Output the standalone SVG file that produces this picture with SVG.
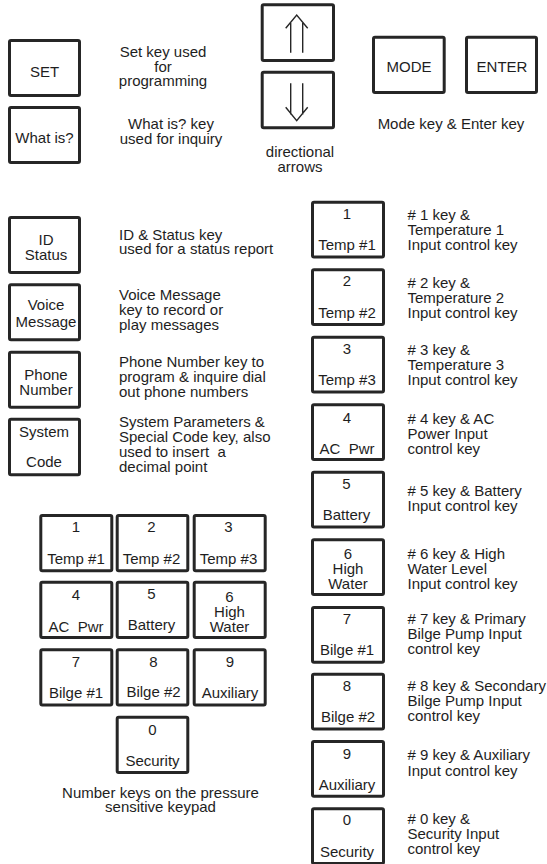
<svg xmlns="http://www.w3.org/2000/svg" width="547" height="864" viewBox="0 0 547 864">
<style>
.key{fill:#fff;stroke:#262626;stroke-width:3;}
text{font-family:"Liberation Sans",Arial,sans-serif;font-size:15px;fill:#1e1e1e;}
.c{text-anchor:middle;}
.arr{fill:none;stroke:#262626;stroke-width:1.4;}
</style>
<rect width="547" height="864" fill="#fff"/>

<g id="set">
<rect class="key" x="9.5" y="40.5" width="70" height="55" rx="1.5"/>
<text class="c" x="44.5" y="77">SET</text>
</g>
<text class="c" x="163" y="57"><tspan x="163" y="57">Set key used</tspan><tspan x="163" y="72">for</tspan><tspan x="163" y="86">programming</tspan></text>

<g id="whatis">
<rect class="key" x="9.5" y="107.5" width="70" height="55" rx="1.5"/>
<text class="c" x="44.5" y="143">What is?</text>
</g>
<text class="c"><tspan x="171" y="129">What is? key</tspan><tspan x="171" y="144">used for inquiry</tspan></text>

<g id="up">
<rect class="key" x="262.2" y="4.8" width="71.3" height="55.6" rx="1.5"/>
<path class="arr" d="M285.7 28.3 L296.7 15 L307.7 28.3 M290.7 23 V52.7 M302.7 23 V52.7"/>
</g>
<g id="down">
<rect class="key" x="262.2" y="72.2" width="71.3" height="55.6" rx="1.5"/>
<path class="arr" d="M285.7 107.3 L296.7 120.7 L307.7 107.3 M290.7 83.3 V114.5 M302.7 83.3 V114.5"/>
</g>
<text class="c"><tspan x="300" y="157">directional</tspan><tspan x="300" y="172">arrows</tspan></text>

<g id="mode">
<rect class="key" x="373.5" y="37.2" width="70.7" height="55.3" rx="1.5"/>
<text class="c" x="409" y="71.5">MODE</text>
</g>
<g id="enter">
<rect class="key" x="466.5" y="37.2" width="70" height="55.3" rx="1.5"/>
<text class="c" x="502" y="71.5">ENTER</text>
</g>
<text class="c" x="451" y="129.3">Mode key &amp; Enter key</text>

<g id="idstatus">
<rect class="key" x="9.5" y="217.5" width="70" height="55" rx="1.5"/>
<text class="c"><tspan x="46" y="245">ID</tspan><tspan x="46" y="260">Status</tspan></text>
</g>
<text><tspan x="119" y="239.5">ID &amp; Status key</tspan><tspan x="119" y="254">used for a status report</tspan></text>

<g id="voice">
<rect class="key" x="9.5" y="284.8" width="70" height="55" rx="1.5"/>
<text class="c"><tspan x="46" y="309.5">Voice</tspan><tspan x="46" y="326.5">Message</tspan></text>
</g>
<text><tspan x="119" y="300">Voice Message</tspan><tspan x="119" y="315">key to record or</tspan><tspan x="119" y="330">play messages</tspan></text>

<g id="phone">
<rect class="key" x="9.5" y="352.2" width="70" height="55" rx="1.5"/>
<text class="c"><tspan x="46" y="380">Phone</tspan><tspan x="46" y="395">Number</tspan></text>
</g>
<text><tspan x="119" y="367">Phone Number key to</tspan><tspan x="119" y="382">program &amp; inquire dial</tspan><tspan x="119" y="397">out phone numbers</tspan></text>

<g id="system">
<rect class="key" x="9.5" y="419.2" width="70" height="55.5" rx="1.5"/>
<text class="c"><tspan x="44" y="437">System</tspan><tspan x="44" y="467">Code</tspan></text>
</g>
<text xml:space="preserve"><tspan x="119" y="427">System Parameters &amp;</tspan><tspan x="119" y="442">Special Code key, also</tspan><tspan x="119" y="457">used to insert  a</tspan><tspan x="119" y="472">decimal point</tspan></text>

<!-- keypad -->
<g id="kp1"><rect class="key" x="40.8" y="515.5" width="71" height="55.3" rx="1.5"/><text class="c"><tspan x="76" y="531.5">1</tspan><tspan x="76" y="564">Temp #1</tspan></text></g>
<g id="kp2"><rect class="key" x="117.2" y="515.5" width="70.6" height="55.3" rx="1.5"/><text class="c"><tspan x="151.5" y="531.5">2</tspan><tspan x="151.5" y="564">Temp #2</tspan></text></g>
<g id="kp3"><rect class="key" x="194.2" y="515.5" width="71" height="55.3" rx="1.5"/><text class="c"><tspan x="228.5" y="531.5">3</tspan><tspan x="228.5" y="564">Temp #3</tspan></text></g>
<g id="kp4"><rect class="key" x="40.8" y="582.2" width="71" height="55.3" rx="1.5"/><text class="c" xml:space="preserve"><tspan x="76" y="600">4</tspan><tspan x="76" y="631.5">AC  Pwr</tspan></text></g>
<g id="kp5"><rect class="key" x="117.2" y="582.2" width="70.6" height="55.3" rx="1.5"/><text class="c"><tspan x="151.5" y="598.5">5</tspan><tspan x="151.5" y="630">Battery</tspan></text></g>
<g id="kp6"><rect class="key" x="194.2" y="582.2" width="71" height="55.3" rx="1.5"/><text class="c"><tspan x="229.5" y="601.5">6</tspan><tspan x="229.5" y="616.5">High</tspan><tspan x="229.5" y="632">Water</tspan></text></g>
<g id="kp7"><rect class="key" x="40.8" y="649.8" width="71" height="55.3" rx="1.5"/><text class="c"><tspan x="76" y="666.5">7</tspan><tspan x="76" y="697.5">Bilge #1</tspan></text></g>
<g id="kp8"><rect class="key" x="117.2" y="649.8" width="70.6" height="55.3" rx="1.5"/><text class="c"><tspan x="153.5" y="666.5">8</tspan><tspan x="153.5" y="697">Bilge #2</tspan></text></g>
<g id="kp9"><rect class="key" x="194.2" y="649.8" width="71" height="55.3" rx="1.5"/><text class="c"><tspan x="230" y="666.5">9</tspan><tspan x="230" y="697.5">Auxiliary</tspan></text></g>
<g id="kp0"><rect class="key" x="117.2" y="717.2" width="70.6" height="55.3" rx="1.5"/><text class="c"><tspan x="152.5" y="735">0</tspan><tspan x="152.5" y="765.5">Security</tspan></text></g>
<text class="c"><tspan x="160.5" y="797.5">Number keys on the pressure</tspan><tspan x="160.5" y="811.5">sensitive keypad</tspan></text>

<!-- right column -->
<g id="r1"><rect class="key" x="312.5" y="202.2" width="71" height="54.7" rx="1.5"/><text class="c"><tspan x="347" y="218.5">1</tspan><tspan x="347" y="250">Temp #1</tspan></text></g>
<text><tspan x="407.5" y="220">#&#160;1 key &amp;</tspan><tspan x="407.5" y="235">Temperature 1</tspan><tspan x="407.5" y="250">Input control key</tspan></text>

<g id="r2"><rect class="key" x="312.5" y="269.8" width="71" height="54.7" rx="1.5"/><text class="c"><tspan x="347" y="286">2</tspan><tspan x="347" y="317.5">Temp #2</tspan></text></g>
<text><tspan x="407.5" y="287.5">#&#160;2 key &amp;</tspan><tspan x="407.5" y="302.5">Temperature 2</tspan><tspan x="407.5" y="317.5">Input control key</tspan></text>

<g id="r3"><rect class="key" x="312.5" y="337.2" width="71" height="54.7" rx="1.5"/><text class="c"><tspan x="347" y="353.5">3</tspan><tspan x="347" y="385">Temp #3</tspan></text></g>
<text><tspan x="407.5" y="355">#&#160;3 key &amp;</tspan><tspan x="407.5" y="370">Temperature 3</tspan><tspan x="407.5" y="385">Input control key</tspan></text>

<g id="r4"><rect class="key" x="312.5" y="404.8" width="71" height="54.7" rx="1.5"/><text class="c" xml:space="preserve"><tspan x="347" y="422.5">4</tspan><tspan x="347" y="453.5">AC  Pwr</tspan></text></g>
<text><tspan x="407.5" y="423.5">#&#160;4 key &amp; AC</tspan><tspan x="407.5" y="438.5">Power Input</tspan><tspan x="407.5" y="453.5">control key</tspan></text>

<g id="r5"><rect class="key" x="312.5" y="472.2" width="71" height="54.7" rx="1.5"/><text class="c"><tspan x="346.5" y="488.5">5</tspan><tspan x="346.5" y="519.5">Battery</tspan></text></g>
<text><tspan x="407.5" y="496">#&#160;5 key &amp; Battery</tspan><tspan x="407.5" y="511">Input control key</tspan></text>

<g id="r6"><rect class="key" x="312.5" y="539.8" width="71" height="54.7" rx="1.5"/><text class="c"><tspan x="348" y="558.5">6</tspan><tspan x="348" y="573.5">High</tspan><tspan x="348" y="588.5">Water</tspan></text></g>
<text><tspan x="407.5" y="558.5">#&#160;6 key &amp; High</tspan><tspan x="407.5" y="574">Water Level</tspan><tspan x="407.5" y="589">Input control key</tspan></text>

<g id="r7"><rect class="key" x="312.5" y="607.5" width="71" height="54.7" rx="1.5"/><text class="c"><tspan x="347" y="623.5">7</tspan><tspan x="347" y="655">Bilge #1</tspan></text></g>
<text><tspan x="407.5" y="623.5">#&#160;7 key &amp; Primary</tspan><tspan x="407.5" y="638.5">Bilge Pump Input</tspan><tspan x="407.5" y="653.5">control key</tspan></text>

<g id="r8"><rect class="key" x="312.5" y="674.2" width="71" height="54.7" rx="1.5"/><text class="c"><tspan x="347" y="690.5">8</tspan><tspan x="348" y="722">Bilge #2</tspan></text></g>
<text><tspan x="407.5" y="691">#&#160;8 key &amp; Secondary</tspan><tspan x="407.5" y="706">Bilge Pump Input</tspan><tspan x="407.5" y="721">control key</tspan></text>

<g id="r9"><rect class="key" x="312.5" y="741.5" width="71" height="54.7" rx="1.5"/><text class="c"><tspan x="347" y="758.5">9</tspan><tspan x="347" y="790">Auxiliary</tspan></text></g>
<text><tspan x="407.5" y="760">#&#160;9 key &amp; Auxiliary</tspan><tspan x="407.5" y="775.5">Input control key</tspan></text>

<g id="r0"><rect class="key" x="312.5" y="808.8" width="71" height="54.7" rx="1.5"/><text class="c"><tspan x="347" y="825">0</tspan><tspan x="347" y="857">Security</tspan></text></g>
<text><tspan x="407.5" y="824">#&#160;0 key &amp;</tspan><tspan x="407.5" y="839">Security Input</tspan><tspan x="407.5" y="854">control key</tspan></text>

<g id="connectors"></g>
</svg>
